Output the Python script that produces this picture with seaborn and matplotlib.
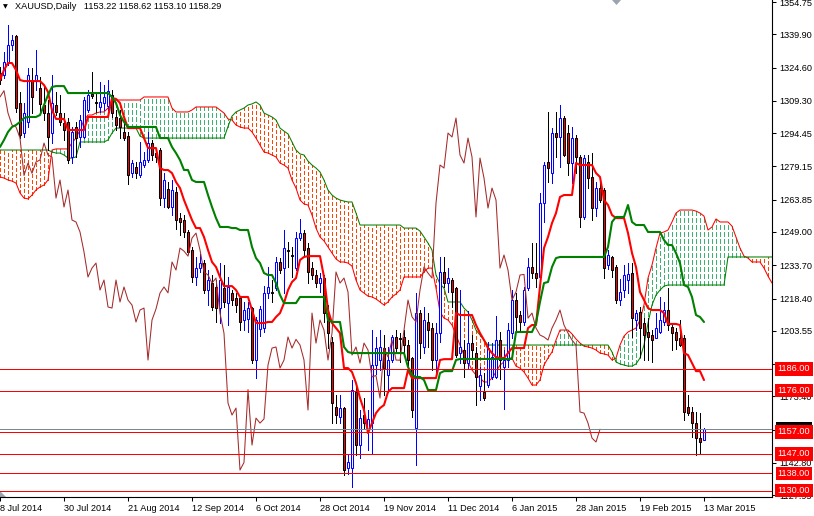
import numpy as np
import pandas as pd
import matplotlib
matplotlib.use("Agg")
import matplotlib.pyplot as plt
import matplotlib.transforms as mtransforms
from matplotlib.patches import Polygon
import seaborn as sns

# XAUUSD daily bars, 8 Jul 2014 .. 13 Mar 2015
opens = [
    1322.0, 1321.2, 1326.7, 1335.0, 1339.1, 1308.3, 1294.5, 1299.6, 1318.9, 1318.9,
    1315.0, 1307.4, 1303.7, 1294.5, 1307.4, 1303.7, 1299.1, 1299.6, 1283.5, 1297.3,
    1292.7, 1292.7, 1305.1, 1312.3, 1308.6, 1306.5, 1308.3, 1307.0, 1312.0, 1301.9,
    1301.4, 1295.0, 1293.0, 1276.1, 1279.0, 1275.2, 1280.0, 1282.1, 1289.9, 1285.3,
    1286.7, 1264.6, 1268.7, 1260.5, 1267.4, 1255.4, 1254.5, 1249.0, 1240.7, 1228.3,
    1232.4, 1234.7, 1222.3, 1225.5, 1223.7, 1214.0, 1223.2, 1216.3, 1221.0, 1218.6,
    1218.6, 1208.5, 1209.0, 1214.0, 1190.1, 1204.6, 1204.8, 1220.9, 1221.3, 1223.2,
    1235.2, 1232.4, 1240.7, 1238.4, 1232.4, 1246.2, 1248.5, 1241.6, 1232.4, 1229.2,
    1225.5, 1227.8, 1211.7, 1198.4, 1168.5, 1163.9, 1168.0, 1140.5, 1140.4, 1175.4,
    1151.0, 1165.0, 1158.5, 1161.1, 1187.8, 1190.1, 1195.6, 1183.2, 1190.1, 1200.7,
    1200.2, 1200.7, 1197.0, 1190.9, 1158.8, 1211.7, 1196.1, 1207.6, 1204.8, 1190.1,
    1202.5, 1230.6, 1225.5, 1226.9, 1223.2, 1193.3, 1194.7, 1188.7, 1197.9, 1193.3,
    1178.0, 1175.4, 1178.6, 1182.3, 1182.3, 1199.3, 1187.0, 1190.1, 1202.5, 1217.7,
    1211.0, 1207.6, 1223.2, 1232.9, 1230.1, 1228.3, 1262.3, 1281.0, 1276.1, 1294.5,
    1292.7, 1301.4, 1294.5, 1280.7, 1292.2, 1283.5, 1255.9, 1281.2, 1274.3, 1260.0,
    1269.2, 1268.3, 1233.8, 1237.5, 1232.9, 1217.7, 1222.3, 1227.0, 1230.1, 1208.5,
    1212.2, 1207.1, 1203.0, 1201.6, 1200.2, 1203.0, 1207.6, 1213.1, 1205.3, 1203.0,
    1200.2, 1200.2, 1168.5, 1166.2, 1161.1, 1154.2, 1153.22,
]
highs = [
    1325.0, 1331.8, 1344.2, 1339.6, 1339.6, 1313.4, 1308.3, 1324.4, 1324.4, 1332.7,
    1320.3, 1315.7, 1309.7, 1321.2, 1313.4, 1312.0, 1303.7, 1301.4, 1297.3, 1299.6,
    1302.8, 1311.1, 1314.3, 1322.6, 1313.0, 1318.0, 1316.6, 1318.9, 1314.3, 1305.1,
    1305.0, 1300.0, 1295.0, 1282.1, 1281.0, 1290.4, 1285.8, 1295.0, 1291.3, 1287.6,
    1287.6, 1276.1, 1272.0, 1272.9, 1269.7, 1257.7, 1256.8, 1249.9, 1242.0, 1237.5,
    1238.9, 1236.1, 1231.5, 1229.2, 1226.9, 1234.7, 1234.0, 1228.3, 1222.3, 1220.9,
    1219.1, 1216.8, 1217.0, 1214.5, 1209.9, 1215.0, 1224.0, 1232.9, 1226.9, 1237.5,
    1237.0, 1249.9, 1244.4, 1242.0, 1249.0, 1254.9, 1250.0, 1243.9, 1235.2, 1231.5,
    1230.1, 1229.2, 1215.4, 1200.7, 1174.0, 1174.0, 1168.5, 1147.0, 1180.9, 1179.5,
    1167.1, 1172.6, 1167.1, 1203.9, 1200.7, 1203.9, 1201.6, 1196.1, 1201.6, 1203.9,
    1202.4, 1203.9, 1199.3, 1191.5, 1220.9, 1213.1, 1214.5, 1211.7, 1207.1, 1207.1,
    1237.5, 1237.5, 1232.4, 1227.8, 1223.7, 1222.3, 1199.3, 1212.7, 1201.6, 1196.1,
    1187.0, 1184.0, 1198.4, 1197.9, 1210.4, 1202.9, 1194.7, 1207.1, 1222.3, 1220.9,
    1212.7, 1223.7, 1237.0, 1243.9, 1243.9, 1266.9, 1281.2, 1304.2, 1296.8, 1304.2,
    1307.4, 1302.3, 1298.2, 1297.3, 1293.6, 1284.4, 1284.4, 1284.4, 1285.3, 1272.0,
    1271.5, 1269.2, 1240.7, 1237.9, 1233.8, 1227.4, 1233.8, 1234.7, 1234.7, 1213.1,
    1214.5, 1209.4, 1209.4, 1204.0, 1211.7, 1219.1, 1216.8, 1223.2, 1207.1, 1204.8,
    1208.5, 1201.6, 1174.0, 1168.5, 1166.2, 1165.7, 1158.62,
]
lows = [
    1317.0, 1319.8, 1325.8, 1332.7, 1304.2, 1292.2, 1292.7, 1297.3, 1303.7, 1314.3,
    1303.7, 1300.5, 1286.7, 1289.9, 1302.8, 1298.2, 1291.3, 1280.7, 1280.7, 1283.5,
    1288.1, 1292.2, 1304.2, 1310.5, 1304.2, 1304.2, 1305.1, 1305.1, 1301.9, 1295.9,
    1292.0, 1291.3, 1271.0, 1274.3, 1273.6, 1274.3, 1279.0, 1281.2, 1282.1, 1281.2,
    1261.4, 1260.5, 1259.9, 1256.8, 1250.4, 1247.7, 1246.8, 1239.0, 1226.0, 1224.6,
    1230.8, 1220.9, 1215.4, 1213.2, 1207.6, 1207.1, 1214.5, 1206.2, 1215.4, 1212.3,
    1204.0, 1204.0, 1203.0, 1188.7, 1182.0, 1201.0, 1203.0, 1218.6, 1216.8, 1222.3,
    1230.1, 1221.0, 1232.9, 1228.3, 1231.5, 1245.3, 1238.4, 1225.5, 1227.4, 1223.8,
    1221.4, 1207.6, 1195.6, 1161.1, 1161.1, 1161.1, 1137.2, 1137.5, 1131.5, 1146.4,
    1145.0, 1158.8, 1148.7, 1147.3, 1183.6, 1185.5, 1174.0, 1175.4, 1189.2, 1193.3,
    1189.2, 1193.3, 1185.5, 1163.9, 1141.8, 1191.0, 1193.3, 1196.1, 1185.5, 1183.6,
    1198.4, 1223.7, 1221.4, 1214.5, 1191.5, 1188.7, 1182.3, 1186.0, 1191.5, 1169.4,
    1171.5, 1171.7, 1177.7, 1181.4, 1181.8, 1181.4, 1167.8, 1186.9, 1200.2, 1204.0,
    1204.0, 1206.2, 1222.3, 1227.8, 1223.7, 1223.7, 1253.6, 1272.0, 1271.5, 1283.5,
    1278.9, 1284.0, 1275.2, 1271.5, 1276.1, 1251.3, 1255.0, 1269.2, 1254.5, 1256.4,
    1262.7, 1227.8, 1232.0, 1228.3, 1216.3, 1215.4, 1219.1, 1220.9, 1200.7, 1204.0,
    1191.5, 1190.1, 1190.1, 1189.2, 1200.2, 1202.5, 1206.2, 1204.0, 1194.7, 1195.2,
    1196.5, 1162.5, 1164.8, 1154.6, 1146.4, 1147.3, 1153.10,
]
closes = [
    1319.0, 1327.2, 1335.0, 1337.3, 1306.0, 1293.6, 1303.7, 1321.2, 1311.1, 1321.2,
    1308.0, 1303.7, 1292.7, 1308.3, 1304.2, 1299.6, 1295.9, 1282.1, 1295.0, 1292.2,
    1300.5, 1309.7, 1312.0, 1311.5, 1308.3, 1308.8, 1311.1, 1314.0, 1303.7, 1298.2,
    1297.3, 1292.2, 1275.0, 1280.7, 1276.0, 1281.2, 1282.1, 1289.9, 1284.4, 1283.5,
    1264.6, 1272.9, 1260.5, 1268.3, 1254.5, 1253.6, 1249.0, 1239.8, 1228.3, 1232.4,
    1234.7, 1222.3, 1226.9, 1214.5, 1214.0, 1226.9, 1216.8, 1223.7, 1217.7, 1215.4,
    1207.6, 1213.1, 1214.0, 1190.1, 1208.5, 1213.6, 1220.9, 1223.7, 1221.0, 1235.2,
    1231.5, 1241.6, 1240.2, 1237.9, 1246.2, 1248.5, 1240.7, 1230.6, 1229.2, 1225.5,
    1227.8, 1211.7, 1202.4, 1170.3, 1164.8, 1168.0, 1139.5, 1143.0, 1176.5, 1151.0,
    1163.4, 1161.1, 1163.0, 1187.8, 1195.6, 1196.1, 1186.4, 1190.1, 1200.7, 1195.6,
    1199.6, 1197.0, 1190.1, 1167.1, 1211.7, 1197.9, 1208.5, 1203.9, 1190.1, 1202.5,
    1230.6, 1225.5, 1227.8, 1221.4, 1192.4, 1196.1, 1188.7, 1197.9, 1194.7, 1182.3,
    1183.0, 1172.6, 1195.6, 1191.5, 1199.3, 1190.1, 1190.0, 1204.0, 1217.7, 1210.0,
    1207.6, 1222.3, 1232.9, 1230.1, 1227.8, 1262.3, 1279.8, 1278.4, 1294.5, 1292.7,
    1301.4, 1284.4, 1280.7, 1292.2, 1283.5, 1255.9, 1283.0, 1273.8, 1260.0, 1269.2,
    1263.7, 1232.4, 1238.4, 1231.5, 1217.7, 1221.4, 1229.2, 1229.5, 1209.4, 1211.7,
    1204.8, 1201.6, 1200.7, 1199.3, 1204.8, 1208.5, 1213.1, 1206.2, 1202.5, 1199.3,
    1197.0, 1166.2, 1165.7, 1161.1, 1154.2, 1152.4, 1158.29,
]

# Ichimoku lines as drawn on the chart
tenkan = [
    1318.9, 1323.5, 1326.7, 1326.7, 1323.5, 1318.9, 1318.4, 1318.4, 1318.4, 1318.4,
    1318.4, 1316.6, 1313.4, 1305.1, 1301.0, 1301.0, 1301.0, 1295.9, 1295.9, 1295.9,
    1295.9, 1295.9, 1301.9, 1301.9, 1301.9, 1301.9, 1301.9, 1301.9, 1310.6, 1310.2,
    1308.3, 1301.9, 1296.8, 1296.8, 1296.8, 1296.8, 1292.2, 1287.6, 1287.6, 1287.6,
    1278.4, 1277.5, 1277.5, 1276.1, 1272.0, 1269.2, 1263.7, 1259.1, 1254.5, 1250.8,
    1250.8, 1246.7, 1240.7, 1235.2, 1232.9, 1228.3, 1224.1, 1224.1, 1224.1, 1222.3,
    1219.1, 1219.1, 1219.1, 1213.1, 1207.1, 1207.1, 1207.1, 1207.6, 1207.6, 1209.9,
    1211.7, 1216.3, 1222.3, 1226.0, 1227.8, 1236.1, 1237.5, 1237.9, 1237.9, 1237.9,
    1237.9, 1228.3, 1213.1, 1207.1, 1204.8, 1202.5, 1186.4, 1186.4, 1184.6, 1179.5,
    1172.6, 1167.1, 1156.5, 1161.1, 1165.7, 1168.0, 1169.4, 1175.4, 1177.2, 1177.2,
    1177.2, 1177.2, 1185.5, 1181.8, 1181.8, 1181.8, 1181.8, 1181.8, 1181.8, 1181.8,
    1190.1, 1190.5, 1190.5, 1190.5, 1211.7, 1210.8, 1210.8, 1210.8, 1210.8, 1206.2,
    1202.5, 1199.3, 1195.6, 1193.3, 1191.5, 1191.0, 1191.0, 1193.3, 1195.6, 1195.6,
    1195.6, 1195.6, 1204.8, 1206.2, 1206.2, 1223.7, 1241.6, 1246.7, 1253.1, 1257.7,
    1265.1, 1266.0, 1266.0, 1266.0, 1280.7, 1279.8, 1279.8, 1279.8, 1279.8, 1276.1,
    1274.3, 1263.7, 1261.4, 1256.8, 1255.4, 1255.4, 1255.4, 1248.5, 1239.3, 1232.9,
    1221.4, 1217.7, 1214.0, 1213.1, 1213.1, 1213.1, 1211.7, 1206.7, 1206.7, 1206.7,
    1206.2, 1193.3, 1192.4, 1188.7, 1185.0, 1185.0, 1180.9,
]
kijun = [
    1288.1, 1291.3, 1295.0, 1297.3, 1298.2, 1299.6, 1301.4, 1301.9, 1301.9, 1301.9,
    1302.8, 1307.4, 1312.0, 1315.7, 1316.1, 1316.1, 1316.1, 1312.9, 1312.9, 1312.9,
    1312.9, 1312.9, 1312.9, 1312.9, 1312.9, 1312.9, 1312.9, 1312.9, 1311.1, 1308.3,
    1302.8, 1299.6, 1297.3, 1297.3, 1297.3, 1297.3, 1297.3, 1297.3, 1297.3, 1297.3,
    1292.2, 1292.2, 1292.2, 1288.1, 1285.3, 1282.1, 1277.5, 1277.5, 1272.9, 1272.0,
    1272.0, 1272.0, 1266.0, 1260.5, 1255.4, 1251.3, 1251.3, 1251.3, 1250.8, 1250.8,
    1249.9, 1249.9, 1249.9, 1242.1, 1237.0, 1234.7, 1230.1, 1229.2, 1229.2, 1225.5,
    1220.0, 1216.3, 1216.3, 1216.3, 1216.3, 1219.1, 1219.1, 1219.1, 1219.1, 1219.1,
    1219.1, 1219.1, 1208.5, 1207.6, 1207.6, 1207.6, 1196.1, 1193.8, 1193.3, 1193.3,
    1193.3, 1193.3, 1193.3, 1193.3, 1193.3, 1193.3, 1193.3, 1193.3, 1193.3, 1193.3,
    1193.3, 1193.3, 1186.9, 1183.2, 1182.3, 1182.3, 1180.9, 1176.3, 1176.3, 1176.3,
    1184.1, 1185.0, 1185.0, 1185.0, 1190.1, 1190.6, 1190.6, 1190.6, 1190.6, 1190.6,
    1190.6, 1190.6, 1190.6, 1190.6, 1190.6, 1190.6, 1190.6, 1190.6, 1190.6, 1203.0,
    1203.0, 1203.0, 1203.0, 1203.0, 1207.1, 1216.8, 1225.5, 1226.0, 1232.9, 1237.0,
    1237.5, 1237.5, 1237.5, 1237.5, 1237.5, 1237.5, 1237.5, 1237.5, 1237.5, 1237.5,
    1237.5, 1237.5, 1242.1, 1253.6, 1255.9, 1255.9, 1255.9, 1261.4, 1253.6, 1252.2,
    1252.2, 1252.2, 1249.0, 1249.0, 1249.0, 1249.0, 1245.3, 1243.0, 1243.0, 1239.3,
    1234.7, 1224.6, 1223.7, 1219.1, 1210.8, 1209.9, 1207.6,
]
senkou_a = [
    1274.3, 1273.8, 1272.9, 1272.4, 1271.5, 1266.9, 1264.6, 1264.2, 1266.0, 1268.3,
    1269.7, 1270.6, 1272.9, 1286.7, 1287.2, 1287.2, 1287.2, 1287.2, 1290.0, 1292.2,
    1295.9, 1300.5, 1302.8, 1302.8, 1303.7, 1304.2, 1304.2, 1306.0, 1308.8, 1309.7,
    1309.7, 1309.7, 1309.7, 1309.7, 1309.7, 1309.7, 1311.1, 1311.1, 1311.1, 1311.1,
    1311.1, 1311.1, 1311.1, 1306.0, 1304.2, 1304.2, 1304.2, 1304.2, 1305.1, 1306.5,
    1306.5, 1306.5, 1306.5, 1306.5, 1306.5, 1305.1, 1303.7, 1301.0, 1300.5, 1298.2,
    1297.3, 1296.8, 1296.8, 1295.0, 1292.2, 1289.0, 1285.8, 1285.3, 1284.4, 1283.5,
    1280.7, 1279.8, 1278.4, 1272.9, 1269.2, 1263.7, 1261.9, 1261.4, 1256.8, 1250.8,
    1246.7, 1244.9, 1242.1, 1239.3, 1236.6, 1235.2, 1235.2, 1234.7, 1233.3, 1226.9,
    1222.3, 1220.9, 1219.5, 1219.1, 1218.2, 1216.8, 1215.4, 1216.8, 1219.1, 1220.5,
    1222.3, 1228.3, 1228.3, 1228.3, 1228.3, 1228.3, 1230.6, 1232.4, 1232.4, 1223.2,
    1212.2, 1209.4, 1208.5, 1206.2, 1201.6, 1197.0, 1192.4, 1189.2, 1185.5, 1183.2,
    1181.8, 1180.0, 1180.0, 1181.8, 1184.6, 1187.8, 1189.2, 1191.0, 1191.0, 1187.3,
    1186.4, 1184.6, 1181.8, 1178.6, 1178.6, 1180.9, 1187.8, 1191.0, 1193.8, 1199.3,
    1203.9, 1203.9, 1203.9, 1202.1, 1199.8, 1197.9, 1196.5, 1196.1, 1195.6, 1194.7,
    1193.3, 1192.9, 1192.4, 1190.1, 1191.0, 1197.0, 1201.1, 1203.0, 1203.9, 1204.8,
    1208.5, 1215.4, 1227.8, 1233.8, 1241.6, 1248.5, 1249.0, 1249.9, 1253.6, 1257.7,
    1259.1, 1259.1, 1259.1, 1259.1, 1258.6, 1257.7, 1256.3, 1249.9, 1251.3, 1255.0,
    1253.6, 1253.6, 1253.6, 1251.7, 1246.7, 1241.6, 1237.9, 1237.0, 1235.2, 1235.2,
    1235.2, 1232.4, 1228.7, 1225.5,
]
senkou_b = [
    1286.7, 1286.7, 1286.7, 1286.7, 1286.7, 1286.7, 1286.7, 1286.7, 1286.7, 1286.7,
    1286.7, 1286.7, 1286.7, 1285.8, 1285.3, 1285.3, 1284.4, 1283.0, 1283.0, 1283.5,
    1290.4, 1290.4, 1290.4, 1290.4, 1290.4, 1290.4, 1290.4, 1291.3, 1294.5, 1296.8,
    1296.8, 1296.8, 1296.8, 1296.8, 1296.8, 1293.1, 1292.2, 1292.2, 1292.2, 1292.2,
    1292.2, 1292.2, 1292.2, 1292.2, 1292.2, 1292.2, 1292.2, 1292.2, 1292.2, 1292.2,
    1292.2, 1292.2, 1292.2, 1292.2, 1292.2, 1292.2, 1292.2, 1297.5, 1302.3, 1304.2,
    1305.1, 1306.0, 1307.4, 1307.9, 1308.8, 1307.4, 1303.7, 1302.8, 1301.9, 1300.5,
    1296.8, 1295.4, 1294.1, 1290.4, 1286.7, 1284.9, 1284.4, 1281.6, 1279.8, 1278.4,
    1276.6, 1272.9, 1268.3, 1266.0, 1264.6, 1263.7, 1263.2, 1262.8, 1262.8, 1257.7,
    1252.2, 1252.2, 1252.2, 1252.2, 1252.2, 1252.2, 1252.2, 1252.2, 1252.2, 1252.2,
    1252.2, 1250.8, 1250.8, 1250.8, 1250.8, 1249.4, 1246.7, 1243.9, 1240.7, 1229.2,
    1225.1, 1223.2, 1216.8, 1216.8, 1216.8, 1216.8, 1214.0, 1212.2, 1208.5, 1203.9,
    1201.6, 1199.3, 1197.0, 1197.0, 1197.0, 1197.0, 1197.0, 1197.0, 1197.0, 1197.0,
    1197.0, 1197.0, 1197.0, 1197.0, 1197.0, 1197.0, 1197.0, 1197.0, 1197.0, 1197.0,
    1197.0, 1197.0, 1197.0, 1197.0, 1197.0, 1197.0, 1197.0, 1197.0, 1197.0, 1197.0,
    1197.0, 1197.0, 1197.0, 1193.8, 1189.2, 1188.3, 1187.8, 1187.3, 1187.3, 1188.3,
    1191.0, 1197.0, 1207.1, 1215.4, 1220.0, 1222.3, 1224.1, 1224.6, 1224.6, 1224.6,
    1224.6, 1224.6, 1224.6, 1224.6, 1224.6, 1224.6, 1224.6, 1224.6, 1224.6, 1224.6,
    1224.6, 1224.6, 1237.5, 1237.5, 1237.5, 1237.5, 1237.5, 1237.5, 1237.5, 1237.5,
    1237.5, 1237.5, 1237.5, 1237.5,
]
chikou_shift = 26

# support / resistance levels and axis text
levels = [1186.00, 1176.00, 1157.00, 1147.00, 1138.00, 1130.00]
price_ticks = [1354.75, 1339.90, 1324.60, 1309.30, 1294.45, 1279.15, 1263.85, 1249.00,
               1233.70, 1218.40, 1203.55, 1188.25, 1173.40, 1158.10, 1142.80, 1127.95]
date_labels = ["8 Jul 2014", "30 Jul 2014", "21 Aug 2014", "12 Sep 2014", "6 Oct 2014",
               "28 Oct 2014", "19 Nov 2014", "11 Dec 2014", "6 Jan 2015", "28 Jan 2015",
               "19 Feb 2015", "13 Mar 2015"]

sns.set_style("white")
plt.rcParams["font.family"] = ["Liberation Sans", "DejaVu Sans"]
plt.rcParams["lines.scale_dashes"] = False
FS = 6.6
PX = 0.72  # one screen pixel in points

fig = plt.figure(figsize=(8.14, 5.16), dpi=100)
ax = fig.add_axes([0, 19 / 516, 772 / 814, 497 / 516])

bars = np.arange(len(closes))
o, h, l, c = map(np.array, (opens, highs, lows, closes))
cloud = pd.DataFrame({"bar": np.arange(len(senkou_a)), "a": senkou_a, "b": senkou_b})
lines = pd.DataFrame({"bar": bars, "tenkan": tenkan, "kijun": kijun})
chikou = pd.DataFrame({"bar": bars[:-chikou_shift], "close": closes[chikou_shift:]})

# kumo: dotted vertical strokes between the two spans
bull = cloud["a"] >= cloud["b"]
ax.vlines(cloud["bar"][bull], cloud["b"][bull], cloud["a"][bull], colors="#3CB371",
          linewidth=PX, linestyles=[(0, (2.9, 1.5))], antialiased=False, zorder=1)
ax.vlines(cloud["bar"][~bull], cloud["a"][~bull], cloud["b"][~bull], colors="#FF4500",
          linewidth=PX, linestyles=[(0, (2.2, 1.5))], antialiased=False, zorder=1)
sns.lineplot(data=cloud, x="bar", y="a", color="#FF0000", linewidth=0.75, ax=ax, zorder=2)
sns.lineplot(data=cloud, x="bar", y="b", color="#008000", linewidth=0.75, ax=ax, zorder=2)

# candles
up = c > o
ax.vlines(bars, l, h, colors=np.where(up, "#0000FF", "#000000"), linewidth=PX,
          antialiased=False, zorder=3)
ax.bar(bars, np.maximum(np.abs(c - o), 0.3), bottom=np.minimum(o, c), width=0.55,
       color=np.where(up, "white", "#FF0000"), edgecolor=np.where(up, "#0000FF", "#000000"),
       linewidth=0.75, zorder=4)

sns.lineplot(data=chikou, x="bar", y="close", color="#A52A2A", linewidth=0.75, ax=ax, zorder=5)
sns.lineplot(data=lines, x="bar", y="tenkan", color="#FF0000", linewidth=1.5, ax=ax, zorder=6)
sns.lineplot(data=lines, x="bar", y="kijun", color="#008000", linewidth=1.5, ax=ax, zorder=6)

for lv in levels:
    ax.axhline(lv, color="#FF0000", linewidth=PX, antialiased=False, zorder=7)
ax.axhline(closes[-1], color="#778899", linewidth=PX, antialiased=False, zorder=7)

ax.set_xlim(0, len(senkou_a) - 1)
ax.set_ylim(1127.1, 1355.7)
ax.set_xlabel("")
ax.set_ylabel("")

for side in ("left", "top"):
    ax.spines[side].set_visible(False)
for side in ("right", "bottom"):
    ax.spines[side].set_color("black")
    ax.spines[side].set_linewidth(0.8)

ax.yaxis.tick_right()
ax.set_yticks(price_ticks)
ax.set_yticklabels([f"{p:.2f}" for p in price_ticks])
ax.tick_params(axis="y", direction="out", length=3, width=0.75, pad=2, labelsize=FS,
               colors="black", right=True, left=False)
ax.set_xticks(bars[::16])
ax.set_xticklabels(date_labels, ha="left")
ax.tick_params(axis="x", direction="out", length=3, width=0.75, pad=2, labelsize=FS,
               colors="black", bottom=True)

# price labels on the right scale
trans = mtransforms.blended_transform_factory(ax.transAxes, ax.transData)
box_x = 1 + 22 / 772
ax.text(box_x, closes[-1], f"{closes[-1]:.2f}", transform=trans, ha="center", va="center",
        color="white", fontsize=FS, clip_on=False, zorder=10,
        bbox=dict(boxstyle="square,pad=0.25", fc="black", ec="none"))
for lv in levels:
    ax.text(box_x, lv, f"{lv:.2f}", transform=trans, ha="center", va="center",
            color="white", fontsize=FS, clip_on=False, zorder=11,
            bbox=dict(boxstyle="square,pad=0.25", fc="#FF0000", ec="none"))

# header
ax.text(0.004, 0.986, "\u25BC", transform=ax.transAxes, family="DejaVu Sans",
        fontsize=4.5, va="center", ha="left", color="black")
ax.text(0.0194, 0.986,
        f"XAUUSD,Daily   {opens[-1]:.2f} {highs[-1]:.2f} {lows[-1]:.2f} {closes[-1]:.2f}",
        transform=ax.transAxes, fontsize=FS, va="center", ha="left", color="black")

# chart shift markers
ax.add_patch(Polygon([(0, 0), (0, 6 / 497), (6 / 772, 0)], closed=True,
                     transform=ax.transAxes, fc="#9AA5B1", ec="none", clip_on=False))
ax.add_patch(Polygon([(612 / 772, 1), (621 / 772, 1), (616.5 / 772, 1 - 5 / 497)], closed=True,
                     transform=ax.transAxes, fc="#9AA5B1", ec="none", clip_on=False))

fig.savefig("out.png", dpi=100, facecolor="white")
